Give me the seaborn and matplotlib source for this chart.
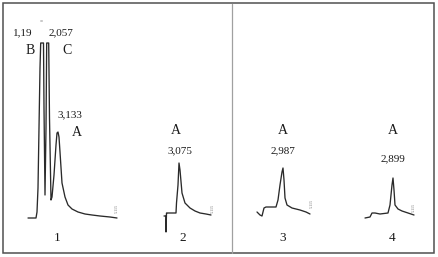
import matplotlib
matplotlib.use("Agg")
import matplotlib.pyplot as plt
import seaborn as sns
import pandas as pd
from matplotlib.patches import Rectangle

sns.set_theme(style="white")
plt.rcParams['font.family'] = ['Liberation Serif', 'DejaVu Serif']

# ---- data: retention time (min, arbitrary origin) and detector signal (mV) ----
t1 = [0, 0.8, 0.9, 1.0, 1.1, 1.2, 1.27, 1.55, 1.6, 1.7, 1.8, 1.87, 2.07, 2.15, 2.3, 2.4,
      2.6, 2.8, 2.9, 3.0, 3.1, 3.2, 3.4, 3.7, 4.0, 4.4, 5.0, 5.7, 6.4, 7.2, 8.2, 8.9]
s1 = [0, 0, 6, 30, 90, 150, 175, 175, 110, 23, 90, 175, 175, 100, 18, 21,
      43, 73, 85, 86, 81, 66, 35, 21, 13, 9, 6, 4, 3, 2, 1, 0]

t2 = [0, 0.2, 0.2, 0.25, 0.3, 1.2, 1.25, 1.4, 1.5, 1.6, 1.8, 2.1, 2.6, 3.1, 3.6, 4.2, 4.7]
s2 = [0, 0, -16, 3, 3, 3, 13, 31, 53, 46, 23, 13, 8, 5, 3, 2, 1]

t3 = [0, 0.3, 0.5, 0.7, 0.9, 1.9, 2.1, 2.3, 2.5, 2.6, 2.7, 2.8, 3.0, 3.5, 4.3, 4.9, 5.3]
s3 = [1, -2, -3, 5, 6, 6, 13, 28, 41, 45, 33, 15, 8, 5, 3, 1, -1]

t4 = [0, 0.5, 0.7, 1.0, 1.5, 2.3, 2.5, 2.7, 2.8, 2.9, 3.0, 3.3, 3.7, 4.3, 4.9]
s4 = [0, 1, 5, 5, 4, 5, 13, 33, 40, 28, 13, 9, 7, 5, 3]

sample_labels = ["1", "2", "3", "4"]
peak_times_1 = ["1,19", "2,057", "3,133"]
peak_names_1 = ["B", "C", "A"]
peak_times_A = ["3,075", "2,987", "2,899"]

W, H = 439, 257
KX, KY = 10.0, 1.0  # px per minute, px per mV

fig = plt.figure(figsize=(W / 100, H / 100), dpi=100)
fig.patch.set_facecolor("white")

# background axes in pixel space for frame and annotations
bg = fig.add_axes([0, 0, 1, 1])
bg.set_xlim(0, W)
bg.set_ylim(H, 0)
bg.axis("off")
bg.add_patch(Rectangle((3, 3), 431, 250, fill=False, edgecolor="#505050", linewidth=1.1))
bg.plot([232, 232], [4, 253], color="#a0a0a0", linewidth=0.9)


def panel_ax(x0_px, base_px, w_px=100, up_px=190, down_px=22):
    left = (x0_px - 3) / W
    bottom = (H - (base_px + down_px)) / H
    ax = fig.add_axes([left, bottom, (w_px + 3) / W, (up_px + down_px) / H])
    ax.set_xlim(-3 / KX, w_px / KX)
    ax.set_ylim(-down_px / KY, up_px / KY)
    ax.axis("off")
    ax.patch.set_alpha(0)
    return ax


panels = [(t1, s1, 28, 218), (t2, s2, 164, 216), (t3, s3, 257, 213), (t4, s4, 365, 218)]
for t, s, x0, base in panels:
    ax = panel_ax(x0, base)
    df = pd.DataFrame({"t": t, "s": s})
    sns.lineplot(data=df, x="t", y="s", ax=ax, sort=False, estimator=None,
                 color="#2a2a2a", linewidth=0.95)

# annotations
tc = "#1a1a1a"
bg.text(23, 33, peak_times_1[0], ha="center", va="center", fontsize=8, color=tc)
bg.text(61, 33, peak_times_1[1], ha="center", va="center", fontsize=8, color=tc)
bg.text(70, 115, peak_times_1[2], ha="center", va="center", fontsize=8, color=tc)
bg.text(30, 50, peak_names_1[0], ha="center", va="center", fontsize=10, color=tc)
bg.text(67, 51, peak_names_1[1], ha="center", va="center", fontsize=10, color=tc)
bg.text(77, 132, peak_names_1[2], ha="center", va="center", fontsize=10, color=tc)

for (x, y_t), lab in zip([(180, 151), (283, 151), (393, 159)], peak_times_A):
    bg.text(x, y_t, lab, ha="center", va="center", fontsize=8, color=tc)
for x in [176, 283, 393]:
    bg.text(x, 131, "A", ha="center", va="center", fontsize=10, color=tc)

for x, lab in zip([57, 183, 283, 392], sample_labels):
    bg.text(x, 238, lab, ha="center", va="center", fontsize=9.5, color=tc)

# faint instrument marks
bg.text(41, 21, "=", ha="center", va="center", fontsize=4, color="#555555")
for x, y in [(117, 208), (213, 208), (312, 203), (414, 207)]:
    bg.text(x, y, "5.115", ha="center", va="center", fontsize=3, color="#777777", rotation=90)

fig.savefig("out.png", dpi=100)
